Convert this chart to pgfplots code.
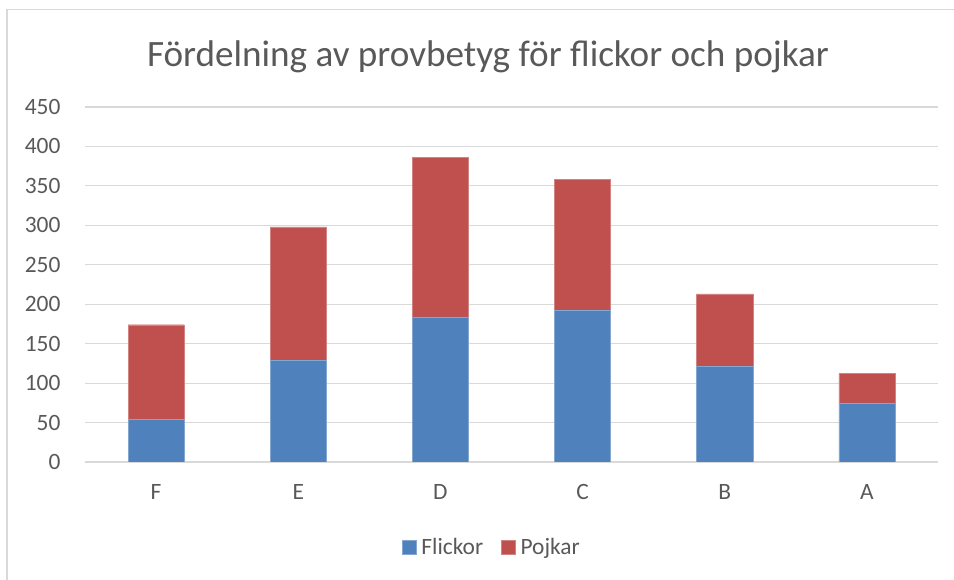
\documentclass[border=0pt]{standalone}
\usepackage{fontspec}
\setmainfont{Carlito}
\usepackage{pgfplots}
\pgfplotsset{compat=1.18}
\definecolor{flickor}{HTML}{4F81BD}
\definecolor{pojkar}{HTML}{C0504D}
\definecolor{txt}{HTML}{595959}
\definecolor{gridc}{HTML}{D9D9D9}
\begin{document}
\begin{tikzpicture}[x=1bp,y=1bp]
\useasboundingbox (-85,-118) rectangle (869,462);
\draw[gridc, line width=1.5bp] (-78,-120) -- (-78,452.5) -- (872,452.5);
\begin{axis}[
    at={(0,0)}, anchor=south west,
    scale only axis, width=853bp, height=355bp,
    ybar stacked, bar width=0.395,
    xmin=-0.5, xmax=5.5, ymin=0, ymax=450,
    ytick={0,50,...,450},
    xtick={0,...,5}, xticklabels={F,E,D,C,B,A},
    axis x line=bottom, axis y line=left,
    x axis line style={draw=gridc, line width=1.2bp, -},
    y axis line style={draw=none},
    major tick length=0,
    ymajorgrids=true,
    grid style={gridc, line width=1.2bp},
    tick label style={font=\fontsize{23.5}{23.5}\selectfont, text=txt},
    xticklabel style={yshift=-19bp},
    yticklabel style={xshift=-21bp},
    /pgf/number format/assume math mode=true,
    legend style={at={(0.477,-0.239)}, anchor=center, draw=none, fill=none,
                  legend columns=2, font=\fontsize{23.5}{23.5}\selectfont, text=txt,
                  /tikz/every odd column/.append style={column sep=3bp},
                  /tikz/every even column/.append style={column sep=16bp}},
    legend image code/.code={\fill[#1] (0bp,-7bp) rectangle (14bp,7bp);},
  ]
\addplot[fill=flickor, draw=flickor!70!white] coordinates {
  (0,54) (1,129) (2,184) (3,192) (4,121) (5,75)};
\addlegendentry{Flickor}
\addplot[fill=pojkar, draw=pojkar!70!white] coordinates {
  (0,120) (1,169) (2,202) (3,166) (4,92) (5,37)};
\addlegendentry{Pojkar}
\end{axis}
\node[anchor=base, font=\fontsize{37.3}{37.3}\selectfont, text=txt] at (403,395) {Fördelning av provbetyg för flickor och pojkar};
\end{tikzpicture}
\end{document}
